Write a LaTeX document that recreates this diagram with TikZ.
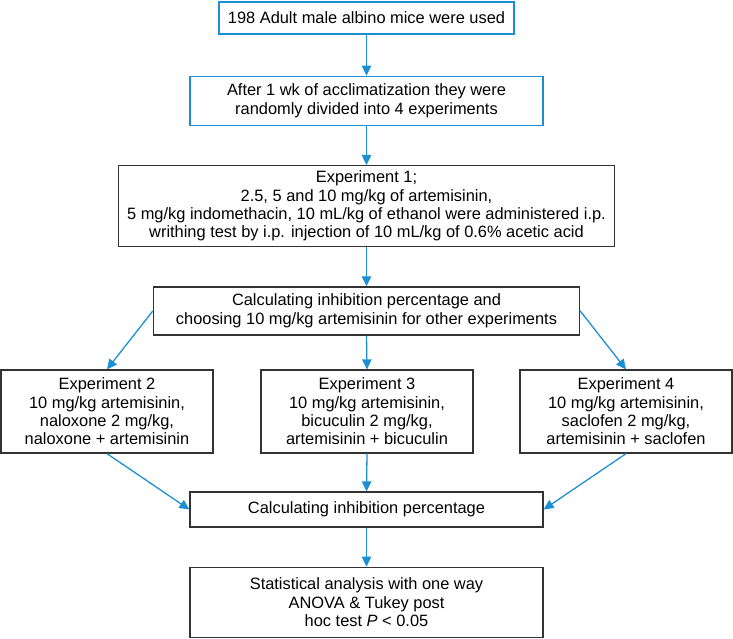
\documentclass[tikz,border=0pt]{standalone}
\usepackage{fontspec}
\setmainfont{Liberation Sans}
\usepackage{tikz}
\usetikzlibrary{calc, arrows.meta}
\definecolor{fblue}{HTML}{1B8FD2}
\definecolor{fgray}{HTML}{333333}

\begin{document}
\begin{tikzpicture}[x=0.03cm, y=-0.03cm,
    BLU/.style={rectangle, draw=fblue, line width=1.1pt, align=center, inner sep=2pt, font=\fontsize{14}{15.6}\selectfont},
    BLK/.style={rectangle, draw=fgray, line width=1.1pt, align=center, inner sep=2pt, font=\fontsize{14}{15.6}\selectfont},
    ARW/.style={draw=fblue, line width=1.1pt, -{Triangle[width=8pt, length=8.5pt]}}
    ]
        \useasboundingbox (0,0) rectangle (733,638);
        \node[BLU, minimum width=8.85cm, minimum height=0.96cm] (mice) at (366.5,18) {198 Adult male albino mice were used};
        \node[BLU, minimum width=10.59cm, minimum height=1.47cm, anchor=north] (accl) at ($(mice.south)+(0,41)$) {After 1 wk of acclimatization they were\\randomly divided into 4 experiments};
        \draw[ARW] (mice.south) -- (accl.north);
        \node[BLK, minimum width=14.88cm, minimum height=2.43cm, anchor=north] (exp1) at ($(accl.south)+(0,39)$) {Experiment 1;\\2.5, 5 and 10 mg/kg of artemisinin,\\5 mg/kg indomethacin, 10 mL/kg of ethanol were administered i.p.\\writhing test by i.p. injection of 10 mL/kg of 0.6\% acetic acid};
        \draw[ARW] (accl.south) -- (exp1.north);
        \node[BLK, minimum width=12.78cm, minimum height=1.44cm, anchor=north] (calc) at ($(exp1.south)+(0,39)$) {Calculating inhibition percentage and\\choosing 10 mg/kg artemisinin for other experiments};
        \draw[ARW] (exp1.south) -- (calc.north);
        % three experiments
        \node[BLK, minimum width=6.36cm, minimum height=2.49cm] (exp2) at (107,411.5) {Experiment 2\\10 mg/kg artemisinin,\\naloxone 2 mg/kg,\\naloxone + artemisinin};
        \node[BLK, minimum width=6.36cm, minimum height=2.49cm] (exp3) at (367,411.5) {Experiment 3\\10 mg/kg artemisinin,\\bicuculin 2 mg/kg,\\artemisinin + bicuculin};
        \node[BLK, minimum width=6.36cm, minimum height=2.49cm] (exp4) at (626,411.5) {Experiment 4\\10 mg/kg artemisinin,\\saclofen 2 mg/kg,\\artemisinin + saclofen};
        \draw[ARW] (calc.west) -- (exp2.north);
        \draw[ARW] (calc.south) -- (exp3.north);
        \draw[ARW] (calc.east) -- (exp4.north);
        \node[BLK, minimum width=10.59cm, minimum height=1.05cm] (inhib) at (366.5,509.5) {Calculating inhibition percentage};
        \draw[ARW] (exp2.south) -- (inhib.west);
        \draw[ARW] (exp3.south) -- (inhib.north);
        \draw[ARW] (exp4.south) -- (inhib.east);
        \node[BLK, minimum width=10.59cm, minimum height=2.1cm, anchor=north] (stat) at ($(inhib.south)+(0,39)$) {Statistical analysis with one way\\ANOVA \& Tukey post\\hoc test {\itshape P} < 0.05};
        \draw[ARW] (inhib.south) -- (stat.north);
    \end{tikzpicture}
\end{document}
